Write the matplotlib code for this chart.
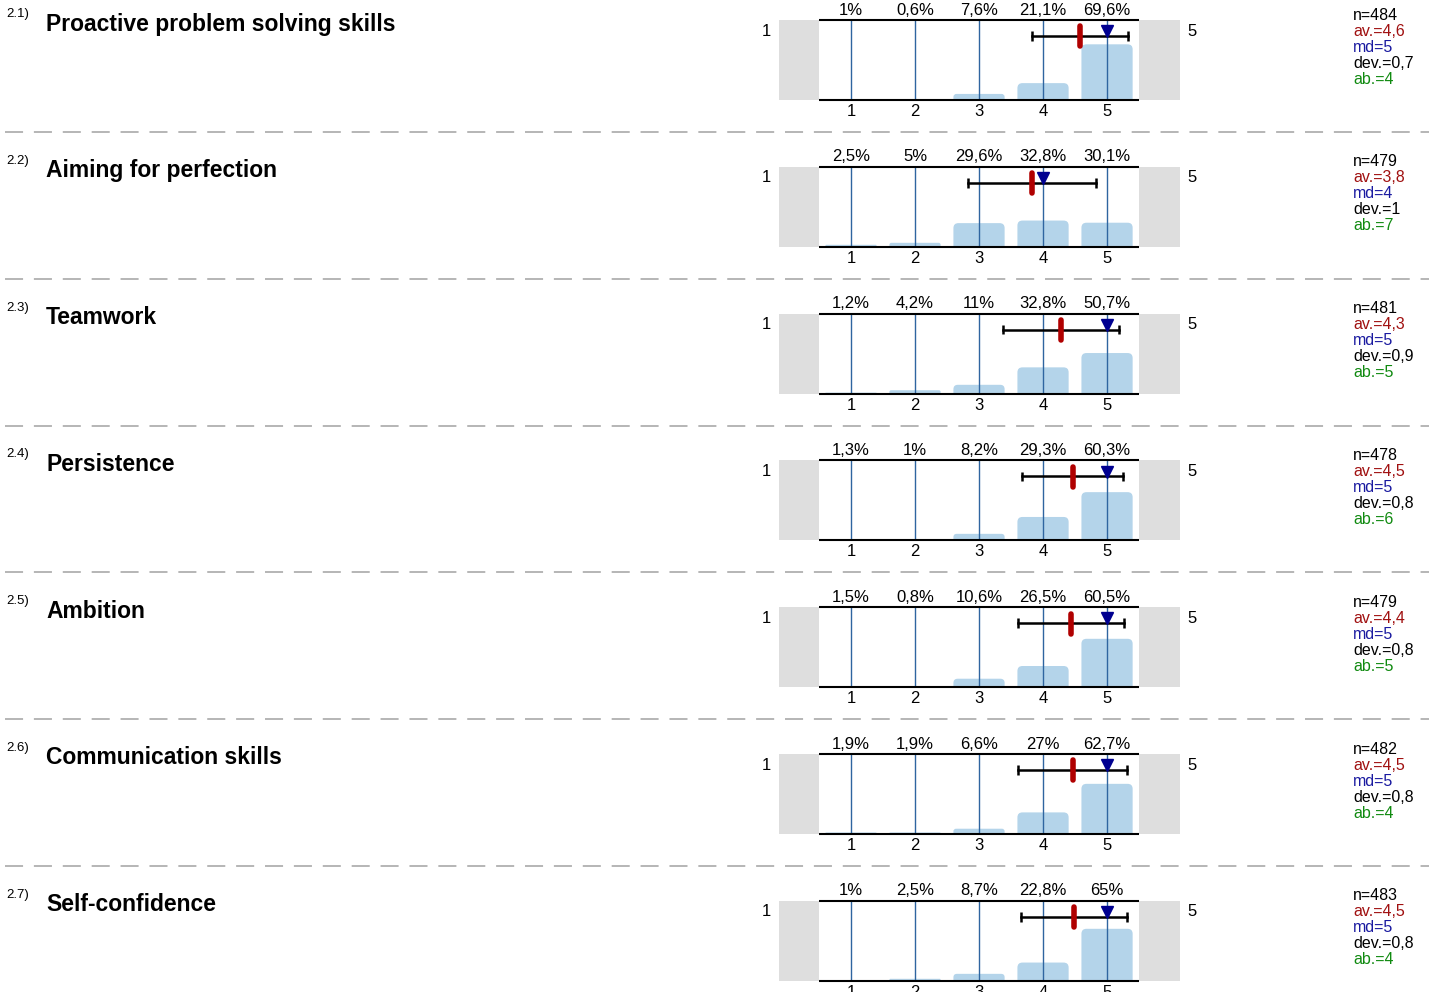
import numpy as np
import matplotlib
matplotlib.use("Agg")
import matplotlib.pyplot as plt
from matplotlib.lines import Line2D
from matplotlib.patches import FancyBboxPatch

plt.rcParams['font.family'] = ['Liberation Sans', 'DejaVu Sans']

numbers = ['2.1)', '2.2)', '2.3)', '2.4)', '2.5)', '2.6)', '2.7)']
titles = ['Proactive problem solving skills', 'Aiming for perfection', 'Teamwork',
          'Persistence', 'Ambition', 'Communication skills', 'Self-confidence']
scale = [1, 2, 3, 4, 5]
percents = [
    [1, 0.6, 7.6, 21.1, 69.6],
    [2.5, 5, 29.6, 32.8, 30.1],
    [1.2, 4.2, 11, 32.8, 50.7],
    [1.3, 1, 8.2, 29.3, 60.3],
    [1.5, 0.8, 10.6, 26.5, 60.5],
    [1.9, 1.9, 6.6, 27, 62.7],
    [1, 2.5, 8.7, 22.8, 65],
]
n_vals = [484, 479, 481, 478, 479, 482, 483]
av_vals = ['4,6', '3,8', '4,3', '4,5', '4,4', '4,5', '4,5']
md_vals = [5, 4, 5, 5, 5, 5, 5]
dev_vals = ['0,7', '1', '0,9', '0,8', '0,8', '0,8', '0,8']
ab_vals = [4, 7, 5, 6, 5, 4, 4]

W, H = 1429, 992
fig = plt.figure(figsize=(W / 100, H / 100), dpi=100)

pitch = 146.8
bar_col = '#b4d4ea'
tick_col = '#2f65a0'
px_x = 1 / 64.0    # data x per pixel
px_y = 100 / 80.0  # data y per pixel


def ftext(x, y, s, **kw):
    fig.text(x / W, 1 - y / H, s, **kw)


for r in range(len(titles)):
    top = 20 + r * pitch
    pct = np.array(percents[r])
    p = pct / pct.sum()
    x = np.array(scale)
    mean = (p * x).sum()
    sd = np.sqrt((p * (x - mean) ** 2).sum())

    ax = fig.add_axes([779 / W, 1 - (top + 80) / H, 401 / W, 80 / H])
    ax.set_xlim(-0.125, 6.14)
    ax.set_ylim(0, 100)
    ax.axis('off')
    ax.axvspan(-0.125, 0.5, color='#dedede', lw=0)
    ax.axvspan(5.5, 6.14, color='#dedede', lw=0)

    # bars with rounded tops
    for xi, v in zip(scale, pct):
        rad_px = min(5.0, v / px_y / 2)
        if rad_px <= 0:
            continue
        rad = rad_px * px_x
        extra = rad_px * px_y
        box = FancyBboxPatch((xi - 0.4, -extra), 0.8, v + extra,
                             boxstyle='round,pad=0,rounding_size=%f' % rad,
                             mutation_aspect=px_y / px_x,
                             fc=bar_col, ec='none', zorder=2)
        ax.add_patch(box)

    ax.vlines(scale, 0, 100, color=tick_col, lw=1, zorder=3)
    ax.hlines([0, 100], 0.5, 5.5, color='black', lw=1.5, zorder=4, clip_on=False)

    # mean +/- sd
    ax.plot([mean - sd, mean + sd], [80, 80], color='black', lw=1.8, zorder=5)
    ax.vlines([mean - sd, mean + sd], 74, 86, color='black', lw=1.8, zorder=5)
    ax.plot([mean, mean], [67, 92], color='#b00000', lw=4, solid_capstyle='round', zorder=6)
    ax.plot(md_vals[r], 86, marker='v', color='#000090', markersize=8, zorder=7)

    for xi, v in zip(scale, pct):
        s = ('%g' % v).replace('.', ',') + '%'
        ax.text(xi, 103, s, ha='center', va='bottom', fontsize=12)
        ax.text(xi, -5, str(xi), ha='center', va='top', fontsize=12)

    ftext(766, top + 11, '1', ha='center', va='center', fontsize=12)
    ftext(1192, top + 11, '5', ha='center', va='center', fontsize=12)

    ftext(6, top - 6, numbers[r], ha='left', va='center', fontsize=9.5)
    ftext(46, top + 4, titles[r], ha='left', va='center', fontsize=16.5, fontweight='bold')

    stats = [('n=%d' % n_vals[r], 'black'), ('av.=' + av_vals[r], '#a01010'),
             ('md=%d' % md_vals[r], '#1a1aa0'), ('dev.=' + dev_vals[r], 'black'),
             ('ab.=%d' % ab_vals[r], '#108a10')]
    for k, (s, c) in enumerate(stats):
        ftext(1353, top - 5 + 16 * k, s, ha='left', va='center', fontsize=11.5, color=c)

    if r < len(titles) - 1:
        ysep = 1 - (top + 112) / H
        fig.add_artist(Line2D([5 / W, 1], [ysep, ysep], color='#b0b0b0', lw=1.3,
                              linestyle=(0, (10, 6))))

fig.savefig('out.png', dpi=100)
